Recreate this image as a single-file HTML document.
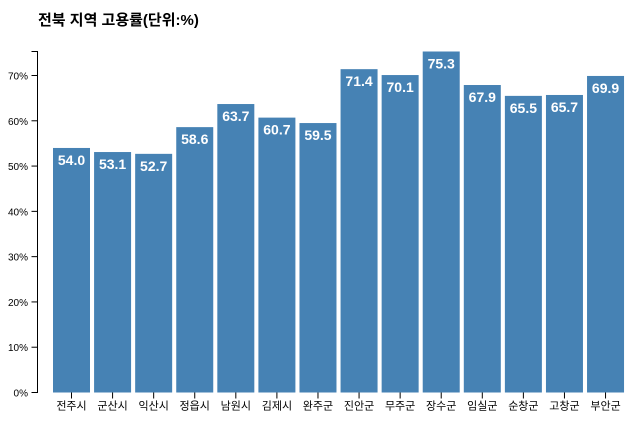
<!DOCTYPE html>
<html><head><meta charset="utf-8"><style>
body{margin:0;background:#fff;font-family:"Liberation Sans","Noto Sans CJK KR",sans-serif}
</style></head><body>
<svg width="640" height="432" xmlns="http://www.w3.org/2000/svg">
<text x="38" y="25" font-size="15" font-weight="bold" fill="#000" font-family="Liberation Sans, Noto Sans CJK KR, sans-serif">전북 지역 고용률(단위:%)</text>
<g id="bars"></g><g id="axes"></g>
</svg>
<script>
const categories=["전주시","군산시","익산시","정읍시","남원시","김제시","완주군","진안군","무주군","장수군","임실군","순창군","고창군","부안군"];
const values=[54.0,53.1,52.7,58.6,63.7,60.7,59.5,71.4,70.1,75.3,67.9,65.5,65.7,69.9];
const yTicks=[0,10,20,30,40,50,60,70];
const NS="http://www.w3.org/2000/svg";
const y0=392.5,y1=51.5,yMax=75.3;
const y=v=>y0-(v/yMax)*(y0-y1);
const step=41.08,x0=51,bw=37;
const x=i=>x0+i*step+2;
const bars=document.getElementById('bars'),axes=document.getElementById('axes');
function mk(t,a,p){const e=document.createElementNS(NS,t);for(const k in a)e.setAttribute(k,a[k]);p.appendChild(e);return e;}
values.forEach((v,i)=>{
 const r=mk('rect',{x:x(i),y:y(v),width:bw,height:y0-y(v),fill:'#4682b4'},bars);
 
 
 const t=mk('text',{x:x(i)+bw/2,y:y(v)+17,'text-anchor':'middle','font-size':'14','font-weight':'bold',fill:'#fff'},bars);
 t.textContent=v.toFixed(1);
 
 
 const tk=mk('line',{x1:x(i)+bw/2,x2:x(i)+bw/2,y1:y0,y2:y0+6,stroke:'#000'},axes);
 
 
 const l=mk('text',{x:x(i)+bw/2,y:y0+17,'text-anchor':'middle','font-size':'11',fill:'#000'},axes);
 l.textContent=categories[i];
 
 
});
const ax=mk('path',{d:`M31.5,${y1}H37.5V${y0}H31.5`,fill:'none',stroke:'#000'},axes);


yTicks.forEach(v=>{
 const tk=mk('line',{x1:31.5,x2:37.5,y1:y(v),y2:y(v),stroke:'#000'},axes);
 
 
 const l=mk('text',{x:28,y:y(v)+4,'text-anchor':'end','font-size':'10',fill:'#000'},axes);
 l.textContent=v+'%';
 
 
});
</script>
</body></html>
